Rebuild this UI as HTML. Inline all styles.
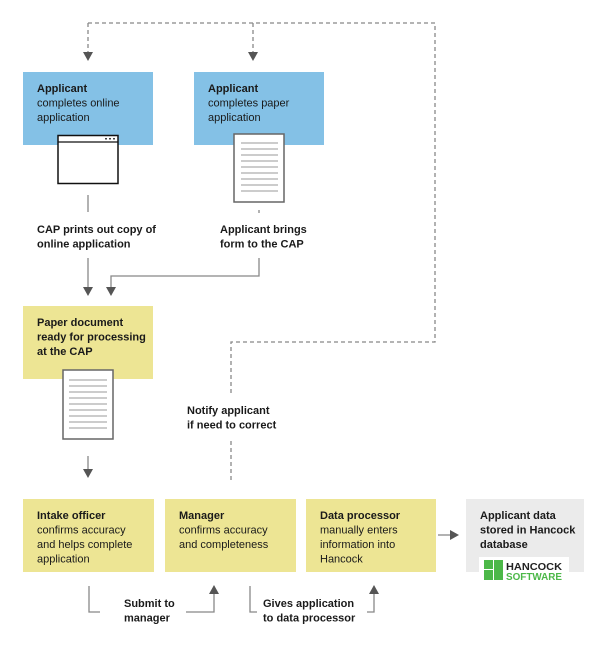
<!DOCTYPE html>
<html><head><meta charset="utf-8"><style>
html,body{margin:0;padding:0;background:#fff}
svg{display:block}
text{font-family:"Liberation Sans",sans-serif;font-size:11px;fill:#1a1a1a}
.b{font-weight:bold}
</style></head><body>
<svg width="612" height="645" viewBox="0 0 612 645" xmlns="http://www.w3.org/2000/svg">
<!-- dashed feedback -->
<g fill="none" stroke="#888" stroke-width="1.3" stroke-dasharray="4,3">
<path d="M88,23 H435 V342 H231 V393"/>
<path d="M231,441 V482"/>
<path d="M88,23 V52"/>
<path d="M253,23 V52"/>
</g>
<path d="M83,52 L93,52 L88,61 Z" fill="#555"/>
<path d="M248,52 L258,52 L253,61 Z" fill="#555"/>

<!-- blue boxes -->
<rect x="23" y="72" width="130" height="73" fill="#84c1e6"/>
<rect x="194" y="72" width="130" height="73" fill="#84c1e6"/>
<text x="37" y="92"><tspan class="b">Applicant</tspan><tspan x="37" dy="14.5">completes online</tspan><tspan x="37" dy="14.5">application</tspan></text>
<text x="208" y="92"><tspan class="b">Applicant</tspan><tspan x="208" dy="14.5">completes paper</tspan><tspan x="208" dy="14.5">application</tspan></text>
<!-- browser icon -->
<rect x="58" y="135.5" width="60" height="48" fill="#fff" stroke="#111" stroke-width="1.5"/>
<line x1="58" y1="142" x2="118" y2="142" stroke="#111" stroke-width="1.2"/>
<circle cx="106" cy="138.8" r="0.9" fill="#111"/><circle cx="110" cy="138.8" r="0.9" fill="#111"/><circle cx="114" cy="138.8" r="0.9" fill="#111"/>
<!-- paper icon 1 -->
<g>
<rect x="234" y="134" width="50" height="68" fill="#fff" stroke="#666" stroke-width="1.5"/>
<g stroke="#999" stroke-width="1">
<line x1="241" y1="143" x2="278" y2="143"/><line x1="241" y1="149" x2="278" y2="149"/><line x1="241" y1="155" x2="278" y2="155"/><line x1="241" y1="161" x2="278" y2="161"/><line x1="241" y1="167" x2="278" y2="167"/><line x1="241" y1="173" x2="278" y2="173"/><line x1="241" y1="179" x2="278" y2="179"/><line x1="241" y1="185" x2="278" y2="185"/><line x1="241" y1="191" x2="278" y2="191"/>
</g></g>

<line x1="88" y1="195" x2="88" y2="212" stroke="#999" stroke-width="1.5"/>
<line x1="259" y1="210" x2="259" y2="213" stroke="#999" stroke-width="1.5"/>
<text class="b" x="37" y="233"><tspan>CAP prints out copy of</tspan><tspan x="37" dy="14.5">online application</tspan></text>
<text class="b" x="220" y="233"><tspan>Applicant brings</tspan><tspan x="220" dy="14.5">form to the CAP</tspan></text>
<g fill="none" stroke="#888" stroke-width="1.3">
<path d="M88,258 V287"/>
<path d="M259,258 V276 H111 V287"/>
</g>
<path d="M83,287 L93,287 L88,296 Z" fill="#555"/>
<path d="M106,287 L116,287 L111,296 Z" fill="#555"/>

<!-- yellow paper doc -->
<rect x="23" y="306" width="130" height="73" fill="#ede594"/>
<text class="b" x="37" y="326"><tspan>Paper document</tspan><tspan x="37" dy="14.5">ready for processing</tspan><tspan x="37" dy="14.5">at the CAP</tspan></text>
<rect x="63" y="370" width="50" height="69" fill="#fff" stroke="#666" stroke-width="1.5"/>
<g stroke="#999" stroke-width="1">
<line x1="69" y1="380" x2="107" y2="380"/><line x1="69" y1="386" x2="107" y2="386"/><line x1="69" y1="392" x2="107" y2="392"/><line x1="69" y1="398" x2="107" y2="398"/><line x1="69" y1="404" x2="107" y2="404"/><line x1="69" y1="410" x2="107" y2="410"/><line x1="69" y1="416" x2="107" y2="416"/><line x1="69" y1="422" x2="107" y2="422"/><line x1="69" y1="428" x2="107" y2="428"/>
</g>
<text class="b" x="187" y="414"><tspan>Notify applicant</tspan><tspan x="187" dy="14.5">if need to correct</tspan></text>
<line x1="88" y1="456" x2="88" y2="470" stroke="#888" stroke-width="1.3"/>
<path d="M83,469 L93,469 L88,478 Z" fill="#555"/>

<!-- bottom boxes -->
<rect x="23" y="499" width="131" height="73" fill="#ede594"/>
<rect x="165" y="499" width="131" height="73" fill="#ede594"/>
<rect x="306" y="499" width="130" height="73" fill="#ede594"/>
<rect x="466" y="499" width="118" height="73" fill="#ebebeb"/>
<text x="37" y="519"><tspan class="b">Intake officer</tspan><tspan x="37" dy="14.5">confirms accuracy</tspan><tspan x="37" dy="14.5">and helps complete</tspan><tspan x="37" dy="14.5">application</tspan></text>
<text x="179" y="519"><tspan class="b">Manager</tspan><tspan x="179" dy="14.5">confirms accuracy</tspan><tspan x="179" dy="14.5">and completeness</tspan></text>
<text x="320" y="519"><tspan class="b">Data processor</tspan><tspan x="320" dy="14.5">manually enters</tspan><tspan x="320" dy="14.5">information into</tspan><tspan x="320" dy="14.5">Hancock</tspan></text>
<text x="480" y="519"><tspan class="b">Applicant data</tspan><tspan class="b" x="480" dy="14.5">stored in Hancock</tspan><tspan class="b" x="480" dy="14.5">database</tspan></text>
<line x1="438" y1="535" x2="450" y2="535" stroke="#888" stroke-width="1.3"/>
<path d="M450,530 L459,535 L450,540 Z" fill="#555"/>
<!-- logo -->
<rect x="479" y="557" width="90" height="25" fill="#fff"/>
<rect x="484" y="560" width="9" height="9" fill="#4cb848"/><rect x="484" y="570" width="9" height="10" fill="#4cb848"/>
<rect x="494" y="560" width="9" height="20" fill="#4cb848"/>
<text x="506" y="570" style="font-size:10px;font-weight:bold;fill:#222" textLength="56" lengthAdjust="spacingAndGlyphs">HANCOCK</text>
<text x="506" y="580" style="font-size:10px;font-weight:bold;fill:#4cb848" textLength="56" lengthAdjust="spacingAndGlyphs">SOFTWARE</text>

<!-- bottom connectors -->
<g fill="none" stroke="#888" stroke-width="1.3">
<path d="M89,586 V612 H100"/>
<path d="M186,612 H214 V593"/>
<path d="M250,586 V612 H257"/>
<path d="M367,612 H374 V593"/>
</g>
<path d="M209,594 L219,594 L214,585 Z" fill="#555"/>
<path d="M369,594 L379,594 L374,585 Z" fill="#555"/>
<text class="b" x="124" y="607"><tspan>Submit to</tspan><tspan x="124" dy="14.5">manager</tspan></text>
<text class="b" x="263" y="607"><tspan>Gives application</tspan><tspan x="263" dy="14.5">to data processor</tspan></text>
</svg>
</body></html>
